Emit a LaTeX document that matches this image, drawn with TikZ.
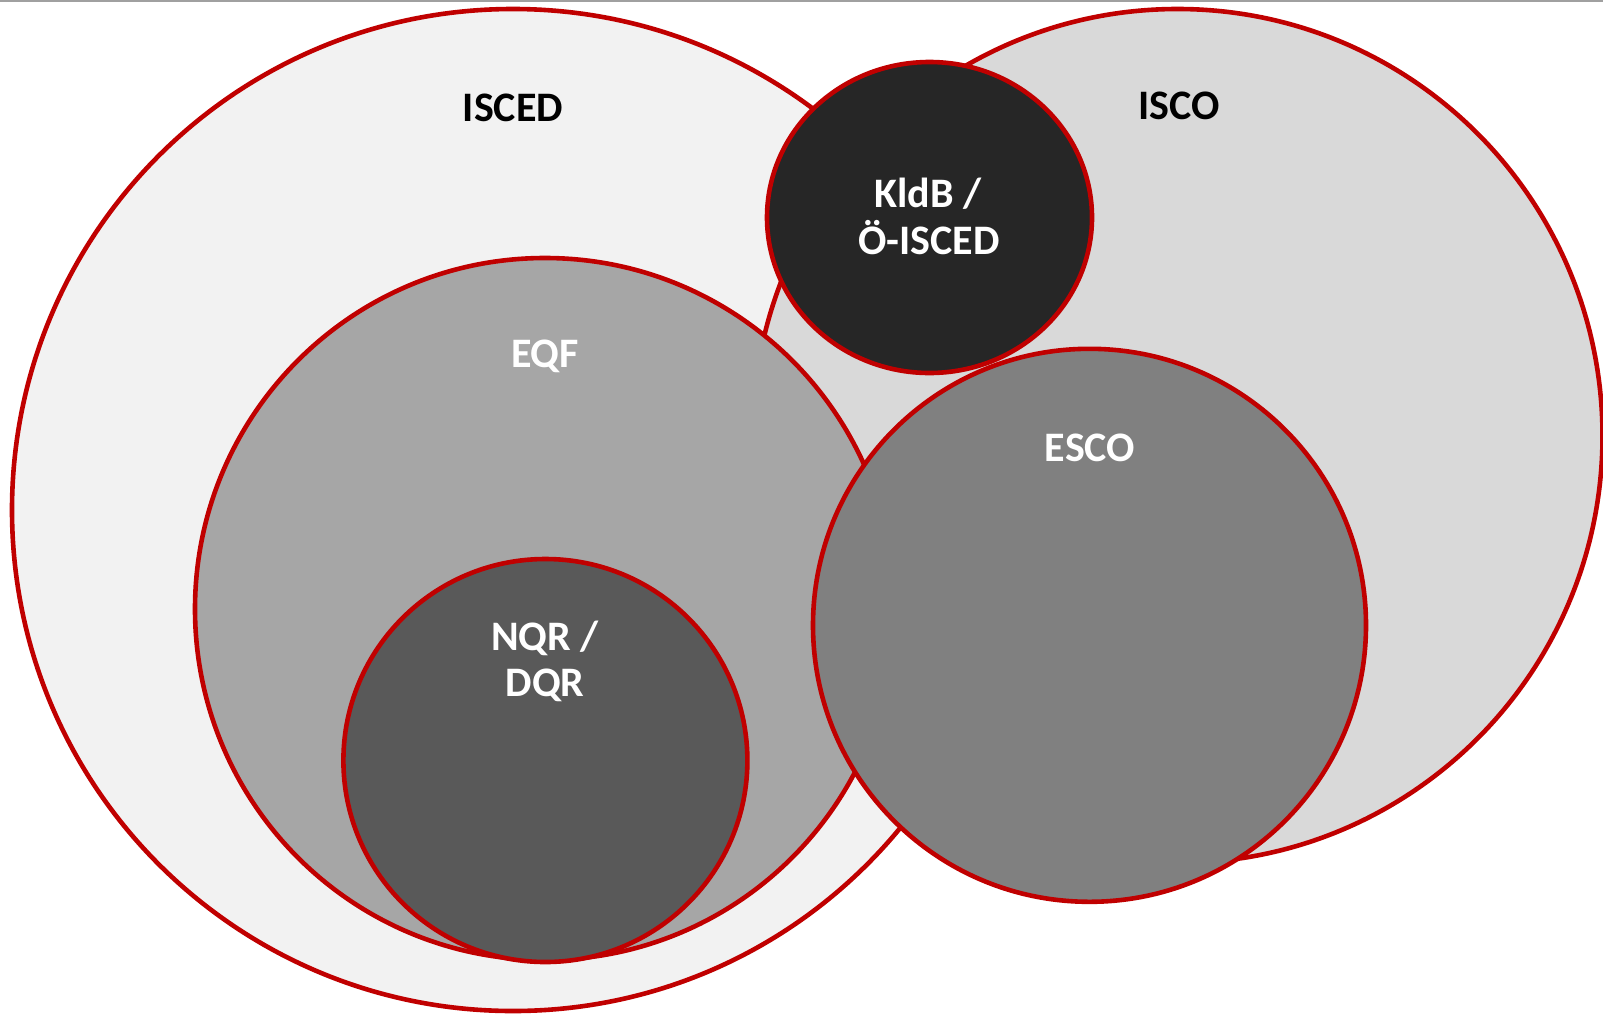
\documentclass[tikz,border=0pt]{standalone}
\usepackage{fontspec}
\setmainfont{Carlito}
\usetikzlibrary{shapes.geometric}
\definecolor{redline}{HTML}{C00000}
\definecolor{cIsced}{HTML}{F2F2F2}
\definecolor{cIsco}{HTML}{D9D9D9}
\definecolor{cEqf}{HTML}{A6A6A6}
\definecolor{cEsco}{HTML}{808080}
\definecolor{cNqr}{HTML}{595959}
\definecolor{cKldb}{HTML}{262626}
\definecolor{topgray}{HTML}{A0A0A0}
\tikzset{
  setcirc/.style={ellipse, draw=redline, line width=4.6pt, inner sep=0pt, outer sep=0pt},
  lbl/.style={anchor=base, inner sep=0pt, font=\fontsize{42}{50}\selectfont\bfseries},
  lbldark/.style={lbl, text=black},
  lbllight/.style={lbl, text=white}
}
\begin{document}
\begin{tikzpicture}[x=1pt,y=-1pt]
\useasboundingbox (0,0) rectangle (1603,1015);
\fill[white] (0,0) rectangle (1603,1015);
\fill[topgray] (0,0) rectangle (1603,1.8);
\node[setcirc, fill=cIsced, minimum width=1002pt, minimum height=1002pt] (isced) at (513,510) {};
\node[setcirc, fill=cIsco, minimum width=850pt, minimum height=854pt] (isco) at (1177.5,436) {};
\node[setcirc, fill=cEqf, minimum width=700pt, minimum height=702pt] (eqf) at (545,609) {};
\node[setcirc, fill=cNqr, minimum width=404pt, minimum height=403pt] (nqr) at (545.4,760.5) {};
\node[setcirc, fill=cKldb, minimum width=325pt, minimum height=311pt] (kldb) at (929.5,217.5) {};
\node[setcirc, fill=cEsco, minimum width=553pt, minimum height=553pt] (esco) at (1089.5,625.3) {};
\node[lbldark] (tisced) at (513,121) {ISCED};
\node[lbldark] (tisco) at (1179,119) {ISCO};
\node[lbllight] (tkldb1) at (928,207) {KldB /};
\node[lbllight] (tkldb2) at (929,254.5) {Ö-ISCED};
\node[lbllight] (teqf) at (545,367.5) {EQF};
\node[lbllight] (tesco) at (1090,461.5) {ESCO};
\node[lbllight] (tnqr1) at (545,650.5) {NQR /};
\node[lbllight] (tnqr2) at (545,696.5) {DQR};
\end{tikzpicture}
\end{document}
